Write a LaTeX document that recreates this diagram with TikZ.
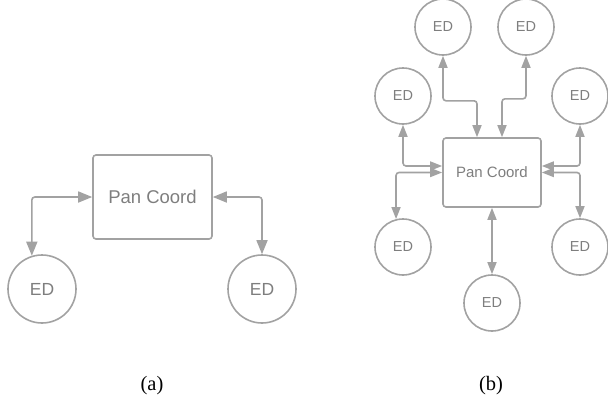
\documentclass[tikz,border=0pt]{standalone}
\usepackage{fontspec}
\setmainfont{Liberation Serif}
\newfontfamily\chartfont{Liberation Sans}
\usetikzlibrary{arrows.meta}
\usetikzlibrary{positioning}

\definecolor{linegray}{HTML}{A2A2A2}
\definecolor{textgray}{HTML}{7E7E7E}

\begin{document}
\begin{tikzpicture}[x=1pt, y=-1pt,
    coord/.style={draw=linegray, line width=1.6pt, rounded corners=3pt, text=textgray,
      font=\chartfont, inner sep=0pt},
    device/.style={circle, draw=linegray, line width=1.6pt, text=textgray,
      font=\chartfont, inner sep=0pt},
    link/.style={draw=linegray, line width=1.6pt, rounded corners=3pt,
      {Triangle[length=12pt, width=9pt]}-{Triangle[length=12pt, width=9pt]}},
    biglink/.style={link, {Triangle[length=14pt, width=11pt]}-{Triangle[length=14pt, width=11pt]}}]
  \useasboundingbox (0, 0) rectangle (608, 400);

  % (a) star with two devices
  \node [coord, minimum width=119pt, minimum height=84pt, font=\chartfont\fontsize{18.5}{20}\selectfont] (pcA) at (152.5, 197) {Pan Coord};
  \node [device, minimum size=68pt, font=\chartfont\fontsize{17.5}{20}\selectfont] (edAl) at (42, 289) {ED};
  \node [device, minimum size=68pt, font=\chartfont\fontsize{17.5}{20}\selectfont] (edAr) at (262, 289) {ED};
  \draw [biglink] (edAl.107) |- (pcA.west);
  \draw [biglink] (pcA.east) -| (edAr.north);

  % (b) star with seven devices
  \node [coord, minimum width=98pt, minimum height=69pt, font=\chartfont\fontsize{15}{18}\selectfont] (pcB) at (492, 172.5) {Pan Coord};
  \foreach \name/\px/\py in {tl/443/27, tr/526/27, ml/403/96, mr/580/96, ll/403/247, lr/580/247, bo/492/303}
    \node [device, minimum size=56pt, font=\chartfont\fontsize{14.5}{17}\selectfont] (ed\name) at (\px, \py) {ED};

  \draw [link] (edtl.south) -- ++(0, 45) -| ([xshift=-15pt]pcB.north);
  \draw [link] (edtr.south) -- ++(0, 43) -| ([xshift=10pt]pcB.north);
  \draw [link] (edml.south) |- ([yshift=6.5pt]pcB.west);
  \draw [link] (pcB.west) -| (edll.104);
  \draw [link] (edmr.south) |- ([yshift=6.5pt]pcB.east);
  \draw [link] (pcB.east) -| (edlr.north);
  \draw [link] (pcB.south) -- (edbo.north);

  \node [font=\fontsize{20.5}{24}\selectfont] (capA) at (152, 386) {(a)};
  \node [font=\fontsize{20.5}{24}\selectfont] (capB) at (491, 386) {(b)};
\end{tikzpicture}
\end{document}
